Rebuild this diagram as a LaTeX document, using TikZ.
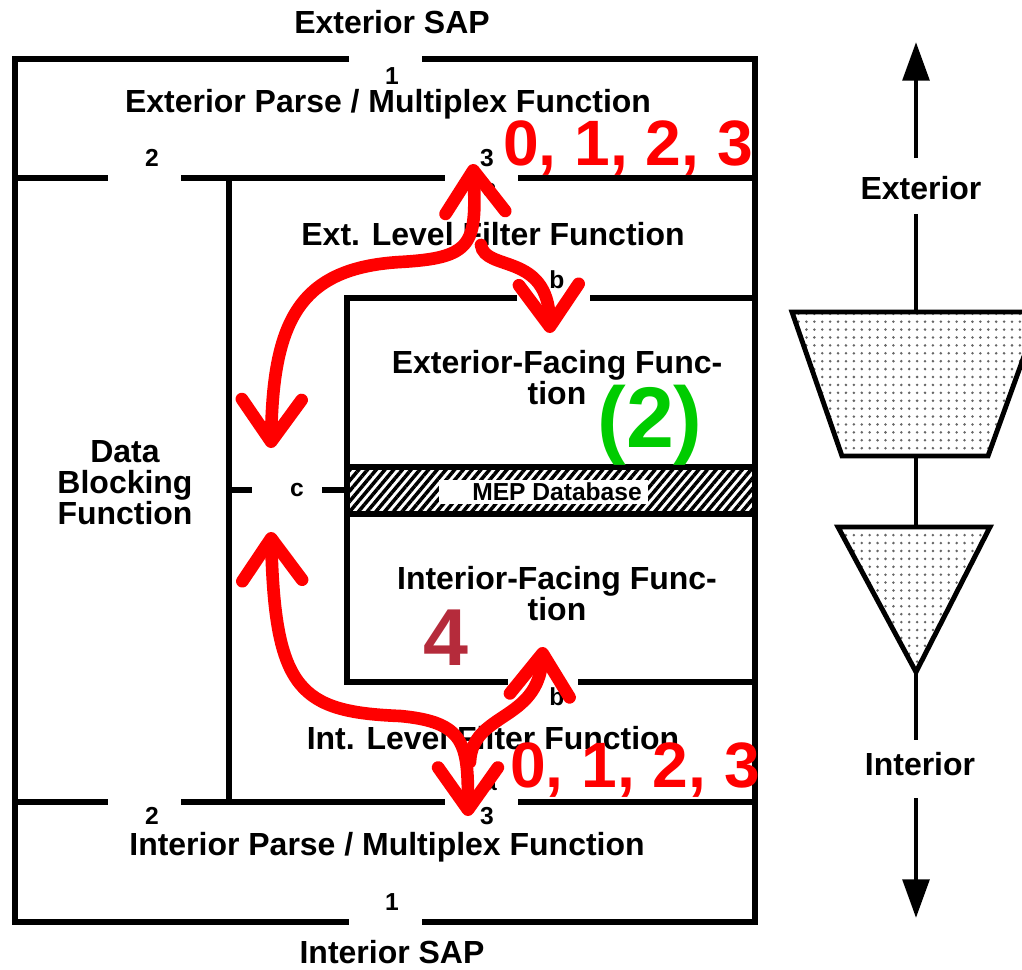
\documentclass[tikz,border=0pt]{standalone}
\usepackage{fontspec}
\setmainfont{Liberation Sans}
\usetikzlibrary{arrows.meta,patterns.meta}
\definecolor{LvlRed}{HTML}{FF0000}
\definecolor{LvlGreen}{HTML}{00CC00}
\definecolor{LvlDark}{HTML}{B52B3B}

\begin{document}
\begin{tikzpicture}[x=0.02cm, y=-0.02cm,
    wall/.style = {line width=3.2pt},
    big/.style = {font=\fontsize{18.2}{17.6}\selectfont\bfseries, inner sep=0pt, align=center},
    port/.style = {font=\fontsize{14}{15}\selectfont\bfseries, inner sep=0pt},
    level/.style = {font=\fontsize{36.5}{38}\selectfont\bfseries, text=LvlRed, inner sep=0pt},
    flow/.style = {draw=LvlRed, line width=7.2pt, line cap=round,
      {Straight Barb[length=24pt,width=34pt,round]}-{Straight Barb[length=24pt,width=34pt,round]}},
    flowend/.style = {draw=LvlRed, line width=7.2pt, line cap=round,
      -{Straight Barb[length=24pt,width=34pt,round]}},
    shade/.style = {line width=2.8pt, line join=miter, pattern={Dots[distance=4.5pt,radius=0.8pt]}, pattern color=black!60}]
  \useasboundingbox (0,0) rectangle (1022,970);

  % box outlines
  \draw[wall] (349,59) -- (15,59) -- (15,922) -- (349,922);
  \draw[wall] (422,59) -- (755,59) -- (755,922) -- (422,922);
  \draw[wall] (15,178) -- (108,178) (181,178) -- (445,178) (518,178) -- (755,178);
  \draw[wall] (15,802) -- (108,802) (181,802) -- (445,802) (518,802) -- (755,802);
  \draw[wall] (229,178) -- (229,802);
  \draw[wall] (517,298) -- (347,298) -- (347,682) -- (508,682);
  \draw[wall] (590,298) -- (755,298) (578,682) -- (755,682);
  \draw[wall] (229,490) -- (252,490) (322,490) -- (347,490);

  % MEP database band
  \fill[pattern={Lines[angle=50,distance=3.8pt,line width=2pt]}] (347,467) rectangle (755,514);
  \draw[wall] (347,467) -- (755,467) (347,514) -- (755,514);
  \node[font=\fontsize{14}{15}\selectfont\bfseries, fill=white, minimum width=209*0.02cm, minimum height=24*0.02cm, inner sep=0pt] (mep) at (543,492) {\hspace{16pt}MEP Database};

  % texts
  \node[big] (extsap) at (392,22) {Exterior SAP};
  \node[big] (intsap) at (392,952) {Interior SAP};
  \node[big] (extpm) at (388,104) {Exterior Parse / Multiplex Function};
  \node[big] (intpm) at (387,847) {Interior Parse / Multiplex Function};
  \node[big] (extlf) at (493,234) {Ext. Level Filter Function};
  \node[big] (intlf) at (493,738) {Int. Level Filter Function};
  \node[big] (extff) at (557,378) {Exterior-Facing Func-\\tion};
  \node[big] (intff) at (557,594) {Interior-Facing Func-\\tion};
  \node[big] (dbf) at (125,483) {Data\\Blocking\\Function};

  % port numbers
  \node[port] (p1t) at (392,76) {1};
  \node[port] (p2t) at (152,158) {2};
  \node[port] (p3t) at (487,158) {3};
  \node[port] (pat) at (490,190) {a};
  \node[port] (pbt) at (557,280) {b};
  \node[port] (pc) at (297,490) {c};
  \node[port] (pbb) at (557,697) {b};
  \node[port] (pab) at (490,784) {a};
  \node[port] (p2b) at (152,816) {2};
  \node[port] (p3b) at (487,816) {3};
  \node[port] (p1b) at (392,902) {1};

  % red flows
  \coordinate (topT) at (473,164);
  \coordinate (topS) at (481,245);
  \coordinate (cUp) at (271,448);
  \coordinate (fxT) at (550,333);
  \coordinate (botT) at (468,816);
  \coordinate (botS) at (470,762);
  \coordinate (cDn) at (271,532);
  \coordinate (fiT) at (543,647);
  \draw[flow] (topT) .. controls (477,245) and (472,258) .. (400,262) .. controls (300,268) and (273,320) .. (cUp);
  \draw[flowend] (topS) .. controls (485,272) and (548,252) .. (fxT);
  \draw[flow] (cDn) .. controls (275,690) and (300,712) .. (400,716) .. controls (466,722) and (468,745) .. (botT);
  \draw[flowend] (botS) .. controls (472,712) and (538,722) .. (fiT);

  \node[level] (lvt) at (628,148) {0, 1, 2, 3};
  \node[level] (lvb) at (635,770) {0, 1, 2, 3};
  \node[font=\fontsize{49}{50}\selectfont\bfseries, text=LvlGreen, inner sep=0pt] (two) at (650,425) {(2)};
  \node[font=\fontsize{46}{48}\selectfont\bfseries, text=LvlDark, inner sep=0pt] (four) at (446,638) {4};

  % exterior / interior axis
  \node[big] (ext) at (921,188) {Exterior};
  \node[big] (int) at (920,764) {Interior};
  \coordinate (upT) at (916,42);
  \coordinate (dnT) at (916,918);
  \draw[line width=2.8pt, -{Triangle[length=22pt,width=15pt]}] (916,158) -- (upT);
  \draw[line width=2.8pt, -{Triangle[length=22pt,width=15pt]}] (916,798) -- (dnT);
  \draw[line width=2.8pt] (916,214) -- (916,312) (916,456) -- (916,527) (916,672) -- (916,740);
  \draw[shade] (792,312) -- (1040,312) -- (988,456) -- (842,456) -- cycle;
  \draw[shade] (838,527) -- (990,527) -- (916,672) -- cycle;
\end{tikzpicture}
\end{document}
